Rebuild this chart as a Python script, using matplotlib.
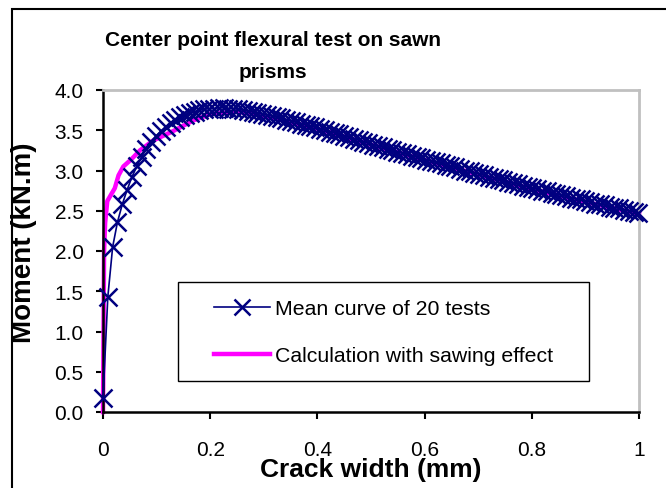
import numpy as np
import matplotlib
matplotlib.use("Agg")
import matplotlib.pyplot as plt
from matplotlib.patches import Rectangle

plt.rcParams['font.family'] = ['Liberation Sans', 'DejaVu Sans']

# Mean curve of 20 tests (crack width mm, moment kN.m)
mean_x = [0.000, 0.009, 0.018, 0.027, 0.036, 0.045, 0.054, 0.063, 0.072, 0.081,
          0.090, 0.099, 0.108, 0.117, 0.126, 0.135, 0.144, 0.153, 0.162, 0.171,
          0.180, 0.189, 0.198, 0.207, 0.216, 0.225, 0.234, 0.243, 0.252, 0.261,
          0.270, 0.279, 0.288, 0.297, 0.306, 0.315, 0.324, 0.333, 0.342, 0.351,
          0.360, 0.369, 0.378, 0.387, 0.396, 0.405, 0.414, 0.423, 0.432, 0.441,
          0.450, 0.459, 0.468, 0.477, 0.486, 0.495, 0.504, 0.513, 0.522, 0.531,
          0.540, 0.549, 0.558, 0.567, 0.576, 0.585, 0.594, 0.603, 0.612, 0.621,
          0.630, 0.639, 0.648, 0.657, 0.666, 0.675, 0.684, 0.693, 0.702, 0.711,
          0.720, 0.729, 0.738, 0.747, 0.756, 0.765, 0.774, 0.783, 0.792, 0.801,
          0.810, 0.819, 0.828, 0.837, 0.846, 0.855, 0.864, 0.873, 0.882, 0.891,
          0.900, 0.909, 0.918, 0.927, 0.936, 0.945, 0.954, 0.963, 0.972, 0.981,
          0.990, 0.999]
mean_y = [0.17, 1.43, 2.05, 2.36, 2.58, 2.76, 2.92, 3.05, 3.17, 3.27,
          3.36, 3.43, 3.49, 3.54, 3.59, 3.63, 3.66, 3.69, 3.71, 3.73,
          3.75, 3.76, 3.77, 3.77, 3.78, 3.78, 3.77, 3.77, 3.76, 3.75,
          3.74, 3.73, 3.72, 3.70, 3.69, 3.68, 3.66, 3.65, 3.63, 3.62,
          3.60, 3.58, 3.57, 3.55, 3.54, 3.52, 3.50, 3.48, 3.47, 3.45,
          3.43, 3.41, 3.39, 3.38, 3.36, 3.34, 3.32, 3.30, 3.29, 3.27,
          3.25, 3.23, 3.22, 3.20, 3.18, 3.17, 3.15, 3.13, 3.12, 3.10,
          3.09, 3.07, 3.05, 3.04, 3.02, 3.00, 2.99, 2.97, 2.96, 2.94,
          2.92, 2.91, 2.89, 2.88, 2.86, 2.84, 2.83, 2.81, 2.80, 2.78,
          2.77, 2.75, 2.74, 2.72, 2.71, 2.69, 2.68, 2.66, 2.65, 2.64,
          2.62, 2.61, 2.59, 2.58, 2.57, 2.55, 2.54, 2.53, 2.51, 2.50,
          2.49, 2.47]

# Calculation with sawing effect
calc_x = [0.000, 0.001, 0.002, 0.004, 0.008, 0.015, 0.022, 0.029, 0.038, 0.053,
          0.069, 0.093, 0.131, 0.168, 0.200, 0.250, 0.300, 0.400, 0.500, 0.600,
          0.700, 0.800, 0.900, 1.000]
calc_y = [0.00, 1.00, 2.00, 2.35, 2.62, 2.70, 2.78, 2.94, 3.05, 3.14,
          3.25, 3.37, 3.49, 3.62, 3.70, 3.73, 3.68, 3.52, 3.32, 3.13,
          2.95, 2.77, 2.61, 2.46]

xticks = [0, 0.2, 0.4, 0.6, 0.8, 1.0]
xtick_labels = ["0", "0.2", "0.4", "0.6", "0.8", "1"]
yticks = [0.0, 0.5, 1.0, 1.5, 2.0, 2.5, 3.0, 3.5, 4.0]

navy = "#000080"
magenta = "#ff00ff"

fig = plt.figure(figsize=(6.66, 4.89), dpi=100)
ax = fig.add_axes([103 / 666, 76 / 489, 536 / 666, 322 / 489])

ax.plot(calc_x, calc_y, color=magenta, lw=3.2, clip_on=False,
        label="Calculation with sawing effect", zorder=2)
ax.plot(mean_x, mean_y, color=navy, lw=1.2, marker="x", ms=13, mew=1.8,
        clip_on=False, label="Mean curve of 20 tests", zorder=3)

ax.set_xlim(0, 1)
ax.set_ylim(0, 4)
ax.set_xticks(xticks)
ax.set_xticklabels(xtick_labels)
ax.set_yticks(yticks)
ax.set_yticklabels([f"{v:.1f}" for v in yticks])
ax.tick_params(axis="x", direction="out", length=5, width=1.5, pad=15, labelsize=15)
ax.tick_params(axis="y", direction="out", length=5, width=1.5, pad=9, labelsize=15)

for s in ["left", "bottom"]:
    ax.spines[s].set_color("black")
    ax.spines[s].set_linewidth(1.8)
for s in ["top", "right"]:
    ax.spines[s].set_color("#c0c0c0")
    ax.spines[s].set_linewidth(2)

ax.set_xlabel("Crack width (mm)", fontsize=19, fontweight="bold")
ax.xaxis.set_label_coords(0.5, -0.14)
ax.set_ylabel("Moment (kN.m)", fontsize=20, fontweight="bold")
ax.yaxis.set_label_coords(-0.123, 0.53)

# legend box drawn separately so the padding matches the reference
ax.add_patch(Rectangle((178 / 666, 1 - 382 / 489), 411 / 666, 99 / 489,
                       transform=fig.transFigure, fill=True, facecolor="white",
                       edgecolor="black", lw=1.0, zorder=4, clip_on=False))
handles, labels = ax.get_legend_handles_labels()
leg = ax.legend(handles[::-1], labels[::-1], loc="upper left",
                bbox_to_anchor=(214 / 666, 1 - 300 / 489), bbox_transform=fig.transFigure,
                fontsize=15.3, frameon=False, borderpad=0,
                labelspacing=1.33, handlelength=2.65, handletextpad=0.2,
                borderaxespad=0, markerscale=0.85)
leg.set_zorder(5)

fig.text(0.41, 1 - 40 / 489, "Center point flexural test on sawn",
         ha="center", va="center", fontsize=15, fontweight="bold")
fig.text(0.41, 1 - 73 / 489, "prisms",
         ha="center", va="center", fontsize=15, fontweight="bold")

fig.patches.append(Rectangle((12 / 666, -0.1), 1.2, 1.1 - 10 / 489, transform=fig.transFigure,
                             fill=False, edgecolor="black", lw=1.5))

fig.savefig("out.png", dpi=100)
